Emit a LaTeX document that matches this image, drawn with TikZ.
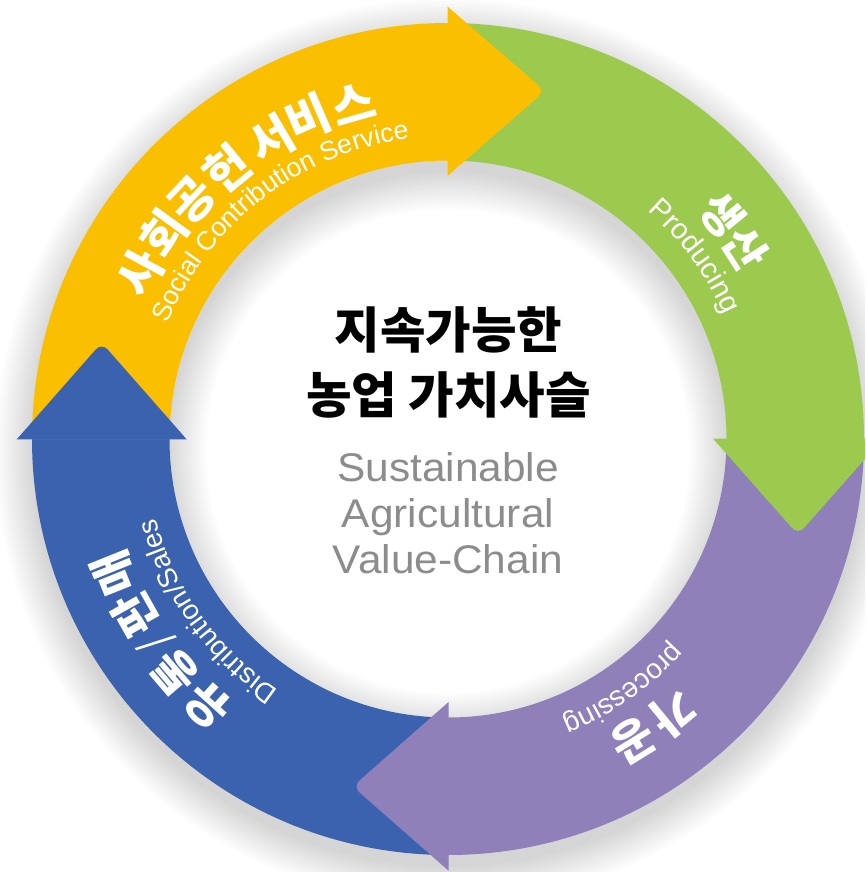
\documentclass[tikz,border=0pt]{standalone}
\usepackage{fontspec}
\setmainfont{Liberation Sans}
\newfontfamily\krfont{Noto Sans CJK KR}
\usetikzlibrary{calc,decorations.text}
\definecolor{cyellow}{HTML}{FABF00}
\definecolor{cgreen}{HTML}{9BCA4F}
\definecolor{cpurple}{HTML}{8F80BA}
\definecolor{cblue}{HTML}{3B62AE}
\definecolor{cgray}{HTML}{8C8C8C}
\newcommand\px[1]{\fontsize{#1pt}{#1pt}\selectfont}
\tikzset{
  krchar/.style={text=white,inner sep=0pt,font=\krfont\bfseries\px{#1}},
  titletext/.style={anchor=base,text=black,inner sep=0pt,font=\krfont\bfseries\px{49.5}},
  subtext/.style={anchor=base,text=cgray,inner sep=0pt,xscale=1.06,font=\px{40}},
}
% band: colour, start angle, end angle (clockwise)
\newcommand\ringband[3]{\fill[#1] ([shift={(#2:416pt)}]C) arc[start angle=#2,end angle=#3,radius=416pt]
  -- ([shift={(#3:278.5pt)}]C) arc[start angle=#3,end angle=#2,radius=278.5pt] -- cycle;}
% arrow head: colour, base corner, tip, base corner
\newcommand\ringhead[4]{\fill[#1] (#2) -- ($(#3)!9pt!(#2)$) .. controls ($(#3)!4pt!(#2)$) and ($(#3)!4pt!(#4)$) .. ($(#3)!9pt!(#4)$) -- (#4) -- cycle;}
% curved latin label: centre angle, size, text
\newcommand\curved[3]{\path[decorate,decoration={text along path,text align=center,
   text={|\px{#2}\color{white}|#3}}]
   ([shift={(#1+50:303pt)}]C) arc[start angle=#1+50,end angle=#1-50,radius=303pt];}
\newcommand\kr[5]{\node[krchar=#4,rotate=#2-90] (#5) at ([shift={(#2:#3)}]C) {#1};}
\begin{document}
\begin{tikzpicture}[x=1pt,y=1pt]
\useasboundingbox (0,0) rectangle (865,-872);
\clip (0,0) rectangle (865,-872);
\coordinate (C) at (448,-439);
\coordinate (Cs) at (448,-451);
% soft shadow
\foreach \i in {0,...,13}{
  \fill[black,opacity=0.013,even odd rule] (Cs) circle[radius=416pt+\i*2.8pt] (Cs) circle[radius=278.5pt-\i*2.8pt];
}
% bands
\ringband{cgreen}{90}{0}
\ringband{cpurple}{0}{-90}
\ringband{cblue}{270}{180}
\ringband{cyellow}{180}{90}
% head coordinates
\coordinate (ya) at (447.7,-6.7);  \coordinate (yt) at (545,-91);    \coordinate (yb) at (447.7,-175.7);
\coordinate (ga) at (883,-438.6);  \coordinate (gt) at (798,-534.7); \coordinate (gb) at (713,-438.6);
\coordinate (pa) at (448.6,-870.7);\coordinate (pt) at (352.7,-786.5);\coordinate (pb) at (448.6,-702);
\coordinate (ba) at (16.7,-439.4); \coordinate (bt) at (101.7,-342.7);\coordinate (bb) at (186.7,-439.4);
\ringhead{cyellow}{ya}{yt}{yb}
\ringhead{cgreen}{ga}{gt}{gb}
\ringhead{cpurple}{pa}{pt}{pb}
\ringhead{cblue}{ba}{bt}{bb}
% Korean ring labels
\kr{사}{151.7}{350pt}{47}{s1}
\kr{회}{144.1}{351pt}{47}{s2}
\kr{공}{136.9}{350pt}{47}{s3}
\kr{헌}{129.4}{349pt}{47}{s4}
\kr{서}{120.5}{348pt}{47}{s5}
\kr{비}{113.5}{350pt}{47}{s6}
\kr{스}{105.8}{349pt}{47}{s7}
\kr{생}{39.3}{354pt}{44}{g1}
\kr{산}{32.7}{353pt}{44}{g2}
\kr{가}{-50.6}{355pt}{46}{p1}
\kr{공}{-58.4}{354pt}{46}{p2}
\kr{유}{228}{359pt}{46}{b1}
\kr{통}{220.5}{359pt}{46}{b2}
\node[text=white,inner sep=0pt,font=\krfont\px{42},rotate=214.9-90] (b3) at ([shift={(214.9:356pt)}]C) {/};
\kr{판}{209.3}{359pt}{46}{b4}
\kr{매}{201.9}{359pt}{46}{b5}
% Latin ring labels
\curved{127.5}{26.6}{Social Contribution Service}
\curved{36.5}{29}{Producing}
\curved{-55}{28}{processing}
\curved{215.5}{27.8}{Distribution/Sales}
% centre text
\node[titletext] (t1) at (448.5,-348) {지속가능한};
\node[titletext] (t2) at (448.5,-413) {농업 가치사슬};
\node[subtext] (e1) at (448,-481.5) {Sustainable};
\node[subtext] (e2) at (448,-527) {Agricultural};
\node[subtext] (e3) at (448,-573) {Value-Chain};
\end{tikzpicture}
\end{document}
